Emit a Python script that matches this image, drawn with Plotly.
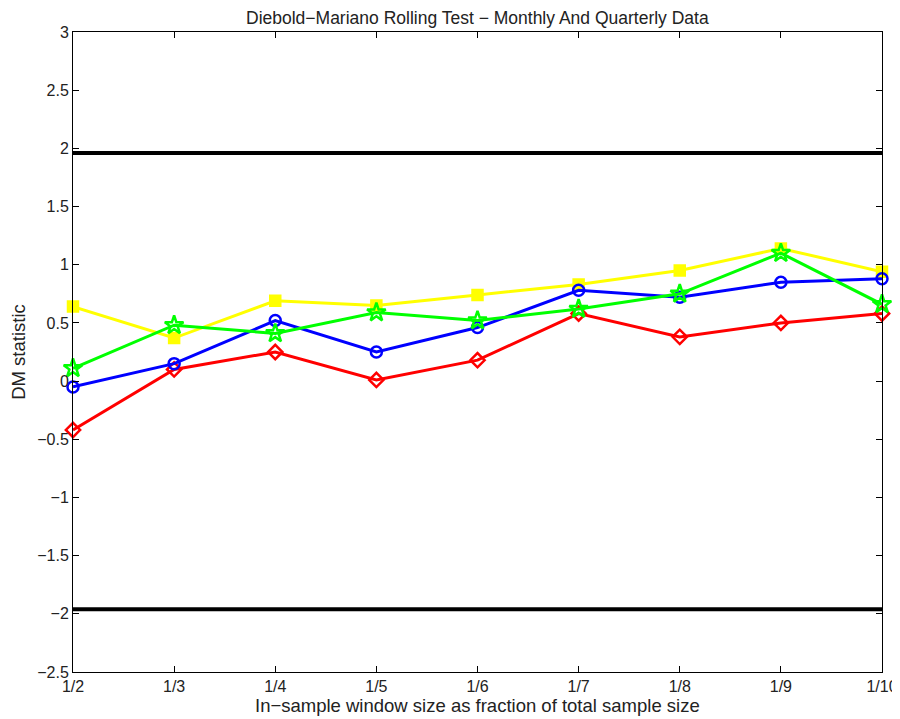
import plotly.graph_objects as go

# window sizes (fraction of total sample)
categories = ["1/2", "1/3", "1/4", "1/5", "1/6", "1/7", "1/8", "1/9", "1/10"]

# DM statistics
red_vals = [-0.42, 0.10, 0.25, 0.01, 0.18, 0.58, 0.38, 0.50, 0.58]
blue_vals = [-0.05, 0.15, 0.52, 0.25, 0.46, 0.78, 0.72, 0.85, 0.88]
green_vals = [0.11, 0.48, 0.41, 0.59, 0.52, 0.62, 0.75, 1.10, 0.66]
yellow_vals = [0.64, 0.37, 0.69, 0.65, 0.74, 0.83, 0.95, 1.14, 0.94]

crit_value = 1.96
y_ticks = [-2.5, -2, -1.5, -1, -0.5, 0, 0.5, 1, 1.5, 2, 2.5, 3]

xpos = list(range(len(categories)))
FONT = "Liberation Sans, Arial"
TXT = "#222222"

fig = go.Figure()

# critical value lines
for c in (crit_value, -crit_value):
    fig.add_trace(go.Scatter(
        x=[xpos[0], xpos[-1]], y=[c, c], mode="lines",
        line=dict(color="black", width=4), showlegend=False, hoverinfo="skip"
    ))

series = [
    (yellow_vals, "#ffff00", "square", 10),
    (red_vals, "#ff0000", "diamond-open", 11),
    (blue_vals, "#0000ff", "circle-open", 11),
    (green_vals, "#00ff00", "star-open", 14),
]
for vals, col, sym, size in series:
    fig.add_trace(go.Scatter(
        x=xpos, y=vals, mode="lines+markers",
        line=dict(color=col, width=3),
        marker=dict(symbol=sym, size=size, color=col, line=dict(color=col, width=2.5)),
        showlegend=False, cliponaxis=False
    ))

axis_common = dict(
    showline=True, linecolor="black", linewidth=1, mirror="allticks",
    ticks="inside", ticklen=6, tickcolor="black", showgrid=False, zeroline=False,
    automargin=False,
    tickfont=dict(family=FONT, size=16, color=TXT),
)

fig.update_xaxes(range=[0, len(categories) - 1], tickvals=xpos, ticktext=categories, **axis_common)

ylabels = []
for t in y_ticks:
    s = str(int(t)) if t == int(t) else str(t)
    ylabels.append(s.replace("-", "\u2212"))
fig.update_yaxes(
    range=[-2.5, 3], tickvals=y_ticks, ticktext=ylabels,
    title=dict(text="DM statistic", font=dict(family=FONT, size=18.5, color=TXT), standoff=9),
    **axis_common
)

# title and x-axis label as paper annotations so they sit where the original has them
fig.add_annotation(
    text="Diebold\u2212Mariano Rolling Test \u2212 Monthly And Quarterly Data",
    xref="paper", yref="paper", x=0.5, y=1.022, xanchor="center", yanchor="middle",
    showarrow=False, font=dict(family=FONT, size=17.5, color=TXT)
)
fig.add_annotation(
    text="In\u2212sample window size as fraction of total sample size",
    xref="paper", yref="paper", x=0.5, y=-0.052, xanchor="center", yanchor="middle",
    showarrow=False, font=dict(family=FONT, size=18.5, color=TXT)
)

# page body has an 8px margin, so the figure is offset by (8, 8)
fig.update_layout(
    width=892, height=711,
    margin=dict(l=65, r=18, t=24, b=47),
    paper_bgcolor="white", plot_bgcolor="white",
)

fig.write_html("out.html")
